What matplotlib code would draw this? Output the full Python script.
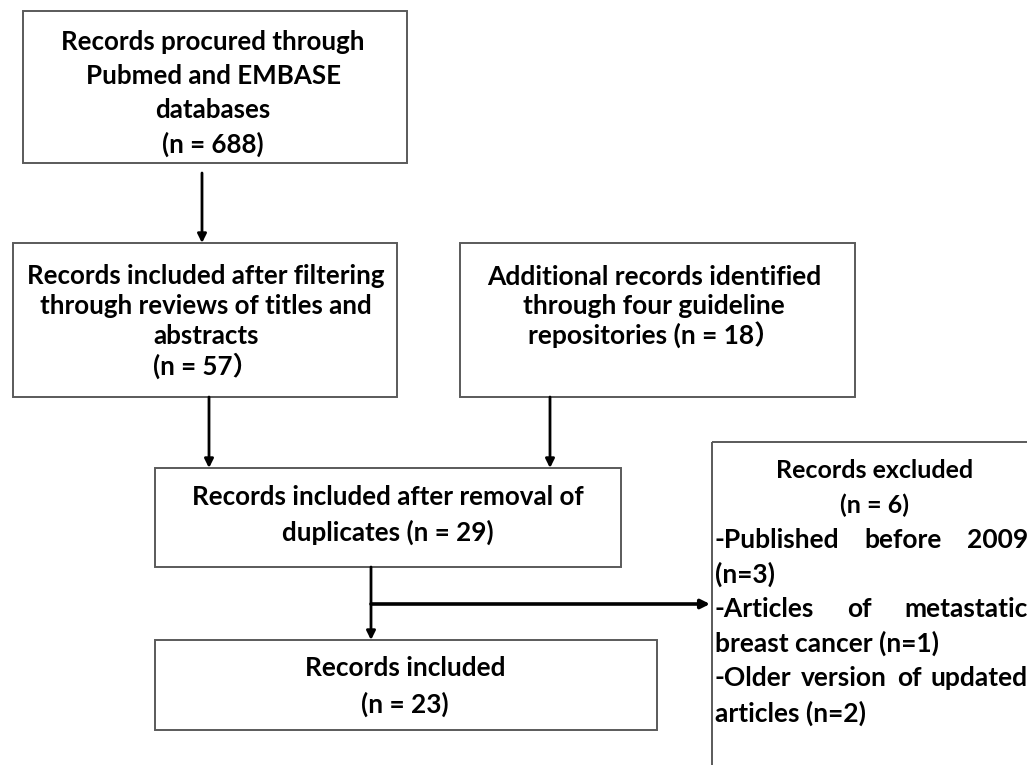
import matplotlib
matplotlib.use("Agg")
import matplotlib.pyplot as plt
from matplotlib.patches import Rectangle

plt.rcParams['font.family'] = ['Lato', 'Noto Sans CJK SC', 'DejaVu Sans']
plt.rcParams['font.weight'] = 'bold'

# box texts
search_lines = ["Records procured through", "Pubmed and EMBASE", "databases", "(n = 688)"]
screen_lines = ["Records included after filtering", "through reviews of titles and", "abstracts", "(n = 57\uff09"]
extra_lines = ["Additional records identified", "through four guideline", "repositories (n = 18\uff09"]
dedup_lines = ["Records included after removal of", "duplicates (n = 29)"]
final_lines = ["Records included", "(n = 23)"]
excl_head = ["Records excluded", "(n = 6)"]
excl_body = ["-Published before 2009", "(n=3)", "-Articles of metastatic",
             "breast cancer (n=1)", "-Older version of updated", "articles (n=2)"]
excl_justify = [True, False, True, False, True, False]

fig = plt.figure(figsize=(10.27, 7.65), dpi=100)
ax = fig.add_axes([0, 0, 1, 1])
ax.set_xlim(0, 1027)
ax.set_ylim(765, 0)
ax.axis('off')

edge = '#5a5a5a'


def box(x0, y0, x1, y1):
    ax.add_patch(Rectangle((x0, y0), x1 - x0, y1 - y0, fill=False,
                           edgecolor=edge, lw=1.4))


def lines_at(lines, cx, y_first, step, size):
    for i, s in enumerate(lines):
        ax.text(cx, y_first + i * step, s, ha='center', va='center',
                fontsize=size, fontweight='bold')


def arrow(x0, y0, x1, y1, lw=2.0):
    ax.annotate('', xy=(x1, y1), xytext=(x0, y0),
                arrowprops=dict(arrowstyle='-|>', color='black', lw=lw,
                                mutation_scale=13, shrinkA=0, shrinkB=0))


# boxes
box(23, 11, 407, 163)
lines_at(search_lines, 213, 42, 34, 18.6)

box(13, 243, 397, 397)
lines_at(screen_lines, 206, 276, 30, 18.6)

box(460, 243, 855, 397)
lines_at(extra_lines, 654, 277, 29, 19)

box(155, 468, 621, 567)
lines_at(dedup_lines, 388, 497, 35, 18.7)

box(155, 640, 657, 730)
lines_at(final_lines, 405, 668, 36, 18.9)

# exclusion box, runs off the right and bottom edge
box(712, 442, 1200, 900)
lines_at(excl_head, 875, 470, 35, 18)

fig.canvas.draw()
rend = fig.canvas.get_renderer()
left, right = 715, 1028
for i, s in enumerate(excl_body):
    y = 540 + i * 34.6
    if not excl_justify[i]:
        ax.text(left, y, s, ha='left', va='center', fontsize=19, fontweight='bold')
        continue
    words = s.split()
    ts = [ax.text(0, y, w, ha='left', va='center', fontsize=19, fontweight='bold')
          for w in words]
    widths = [t.get_window_extent(rend).width for t in ts]
    gap = (right - left - sum(widths)) / (len(words) - 1)
    x = left
    for t, w in zip(ts, widths):
        t.set_x(x)
        x += w + gap

# connectors
arrow(202, 173, 202, 243)
arrow(209, 397, 209, 468)
arrow(550, 397, 550, 468)
arrow(371, 567, 371, 640)
arrow(371, 604, 710, 604, lw=2.6)

fig.savefig('out.png', dpi=100)
